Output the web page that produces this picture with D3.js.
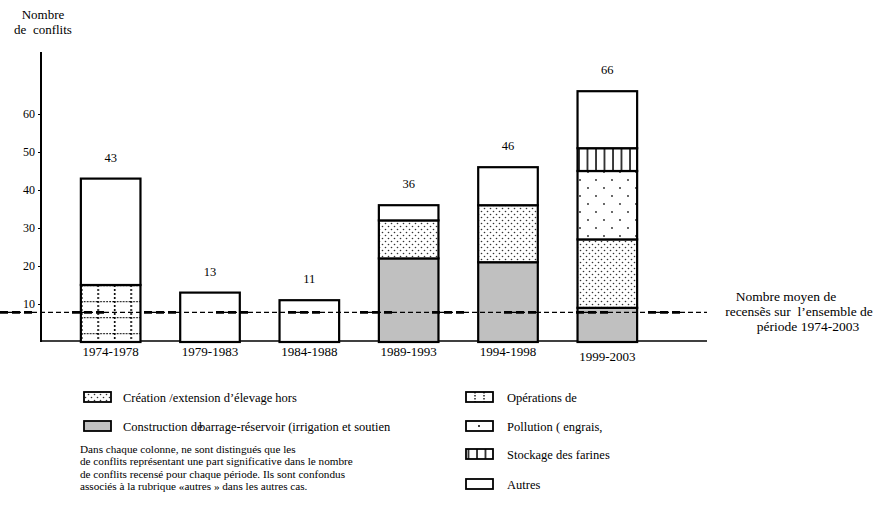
<!DOCTYPE html>
<html>
<head>
<meta charset="utf-8">
<script src="https://cdn.jsdelivr.net/npm/d3@7"></script>
<style>
  body { margin: 0; background: #fff; }
</style>
</head>
<body>
<svg id="chart" width="875" height="506" font-family="'Liberation Serif', 'Times New Roman', serif"></svg>
<script>
const periods = ['1974-1978', '1979-1983', '1984-1988', '1989-1993', '1994-1998', '1999-2003'];
const totals = [43, 13, 11, 36, 46, 66];
const barrage = [0, 0, 0, 22, 21, 9];
const operations = [15, 0, 0, 0, 0, 0];
const creation = [0, 0, 0, 10, 15, 18];
const pollution = [0, 0, 0, 0, 0, 18];
const stockage = [0, 0, 0, 0, 0, 6];
const autres = [28, 13, 11, 4, 10, 15];
const yTicks = [10, 20, 30, 40, 50, 60];
const meanValue = 7.8;

const keys = ['barrage', 'operations', 'creation', 'pollution', 'stockage', 'autres'];
const fills = {
    barrage: '#c0c0c0',
    operations: 'url(#grid)',
    creation: 'url(#dense)',
    pollution: 'url(#sparse)',
    stockage: 'url(#bars)',
    autres: '#fff'
};

const rows = periods.map((p, i) => ({
    period: p,
    barrage: barrage[i],
    operations: operations[i],
    creation: creation[i],
    pollution: pollution[i],
    stockage: stockage[i],
    autres: autres[i]
}));

const FONT = "'Liberation Serif', 'Times New Roman', serif";
const svg = d3.select('#chart');
const defs = svg.append('defs');

// échelles
const x = d3.scaleBand().domain(periods).range([61, 657]).paddingInner(0.4).paddingOuter(0.2);
const y = d3.scaleLinear().domain([0, 70]).range([342, 76]);

// motifs de remplissage
const dense = defs.append('pattern').attr('id', 'dense').attr('patternUnits', 'userSpaceOnUse')
    .attr('width', 6).attr('height', 6);
dense.append('rect').attr('width', 6).attr('height', 6).attr('fill', '#fff');
dense.append('circle').attr('cx', 1.5).attr('cy', 1.5).attr('r', 0.8).attr('fill', '#333');
dense.append('circle').attr('cx', 4.5).attr('cy', 4.5).attr('r', 0.8).attr('fill', '#333');

const sparse = defs.append('pattern').attr('id', 'sparse').attr('patternUnits', 'userSpaceOnUse')
    .attr('width', 16).attr('height', 16);
sparse.append('rect').attr('width', 16).attr('height', 16).attr('fill', '#fff');
sparse.append('circle').attr('cx', 4).attr('cy', 4).attr('r', 0.9).attr('fill', '#222');
sparse.append('circle').attr('cx', 12).attr('cy', 12).attr('r', 0.9).attr('fill', '#222');

const grid = defs.append('pattern').attr('id', 'grid').attr('patternUnits', 'userSpaceOnUse')
    .attr('width', 16.5).attr('height', 16).attr('x', x(periods[0])).attr('y', y(15));
grid.append('rect').attr('width', 16.5).attr('height', 16).attr('fill', '#fff');
grid.append('line').attr('x1', 0.8).attr('x2', 0.8).attr('y1', 0).attr('y2', 16)
    .attr('stroke', '#000').attr('stroke-width', 1.6).attr('stroke-dasharray', '2,2');
grid.append('line').attr('x1', 0).attr('x2', 16.5).attr('y1', 0.6).attr('y2', 0.6)
    .attr('stroke', '#000').attr('stroke-width', 1.2).attr('stroke-dasharray', '1.5,1.5');

const bars = defs.append('pattern').attr('id', 'bars').attr('patternUnits', 'userSpaceOnUse')
    .attr('width', 8.5).attr('height', 10);
bars.append('rect').attr('width', 8.5).attr('height', 10).attr('fill', '#fff');
bars.append('line').attr('x1', 1).attr('x2', 1).attr('y1', 0).attr('y2', 10)
    .attr('stroke', '#000').attr('stroke-width', 1.5);

// axes
svg.append('line').attr('x1', 41).attr('x2', 41).attr('y1', 52).attr('y2', 342)
    .attr('stroke', '#000').attr('stroke-width', 2);
svg.append('line').attr('x1', 40).attr('x2', 707).attr('y1', 341).attr('y2', 341)
    .attr('stroke', '#000').attr('stroke-width', 1.5);

const yAxis = svg.append('g').attr('transform', 'translate(41,0)')
    .call(d3.axisLeft(y).tickValues(yTicks).tickSize(3).tickPadding(3))
    .attr('font-family', FONT).attr('font-size', 12);
yAxis.select('.domain').remove();
yAxis.selectAll('text').attr('fill', '#000');
yAxis.selectAll('line').attr('stroke', '#000');

// barres empilées
const stacked = d3.stack().keys(keys)(rows);
svg.append('g').selectAll('g')
    .data(stacked)
    .join('g')
    .attr('fill', d => fills[d.key])
    .selectAll('rect')
    .data(d => d.filter(s => s[1] > s[0]))
    .join('rect')
    .attr('x', d => x(d.data.period))
    .attr('y', d => y(d[1]))
    .attr('width', x.bandwidth())
    .attr('height', d => y(d[0]) - y(d[1]))
    .attr('stroke', '#000')
    .attr('stroke-width', 2.2);

// ligne de moyenne
svg.append('line').attr('x1', 0).attr('x2', 707).attr('y1', y(meanValue)).attr('y2', y(meanValue))
    .attr('stroke', '#000').attr('stroke-width', 1.3).attr('stroke-dasharray', '5,3');
svg.append('line').attr('x1', 0).attr('x2', 707).attr('y1', y(meanValue)).attr('y2', y(meanValue))
    .attr('stroke', '#000').attr('stroke-width', 2.6).attr('stroke-dasharray', '8,4,8,4,8,40');

// totaux au-dessus des barres
svg.append('g').selectAll('text')
    .data(periods)
    .join('text')
    .attr('x', d => x(d) + x.bandwidth() / 2)
    .attr('y', (d, i) => y(totals[i]) - 17)
    .attr('text-anchor', 'middle')
    .attr('font-size', 12.5)
    .text((d, i) => totals[i]);

// étiquettes des périodes
svg.append('g').selectAll('text')
    .data(periods)
    .join('text')
    .attr('x', d => x(d) + x.bandwidth() / 2)
    .attr('y', (d, i) => i === 5 ? 361 : 356)
    .attr('text-anchor', 'middle')
    .attr('font-size', 13)
    .text(d => d);

// titre de l'axe
svg.append('text').attr('x', 43).attr('y', 19).attr('text-anchor', 'middle').attr('font-size', 13).text('Nombre');
svg.append('text').attr('x', 43).attr('y', 34).attr('text-anchor', 'middle').attr('font-size', 13)
    .attr('xml:space', 'preserve').text('de  conflits');

// annotation de la moyenne
const note = svg.append('g').attr('font-size', 13.5).attr('text-anchor', 'middle');
note.append('text').attr('x', 786).attr('y', 301).text('Nombre moyen de');
note.append('text').attr('x', 799).attr('y', 316).attr('xml:space', 'preserve').text('recensẽs sur  l\u2019ensemble de');
note.append('text').attr('x', 808).attr('y', 331).text('période 1974-2003');

// légende
const legendLeft = [
    { fill: 'url(#dense)', label: 'Création /extension d\u2019élevage hors', y: 398 },
    { fill: '#c0c0c0', label: 'Construction de', y: 427 }
];
const legendRight = [
    { fill: '#fff', label: 'Opérations de', y: 398, icon: 'ops' },
    { fill: '#fff', label: 'Pollution ( engrais,', y: 427, icon: 'dot' },
    { fill: 'url(#bars)', label: 'Stockage des farines', y: 455, icon: 'bars' },
    { fill: '#fff', label: 'Autres', y: 485 }
];

function drawLegend(items, x0, tx) {
    const g = svg.append('g');
    const it = g.selectAll('g').data(items).join('g');
    it.append('rect')
        .attr('x', x0).attr('y', d => d.y - 6)
        .attr('width', 27).attr('height', 10)
        .attr('fill', d => d.fill)
        .attr('stroke', '#000').attr('stroke-width', 1.8);
    it.append('text')
        .attr('x', tx).attr('y', d => d.y + 4)
        .attr('font-size', 12.5)
        .text(d => d.label);
    return it;
}

drawLegend(legendLeft, 84, 123);
svg.append('text').attr('x', 199).attr('y', 431).attr('font-size', 12.5)
    .text('barrage-réservoir (irrigation et soutien');

const right = drawLegend(legendRight, 466, 507);
right.filter(d => d.icon === 'ops').each(function(d) {
    const g = d3.select(this);
    [475, 484].forEach(xx => g.append('line')
        .attr('x1', xx).attr('x2', xx).attr('y1', d.y - 6).attr('y2', d.y + 4)
        .attr('stroke', '#000').attr('stroke-width', 1.3).attr('stroke-dasharray', '1.5,1.5'));
});
right.filter(d => d.icon === 'dot').append('circle')
    .attr('cx', 479).attr('cy', d => d.y - 1).attr('r', 1).attr('fill', '#000');

// note explicative
const para = [
    'Dans chaque colonne, ne sont distingués que les',
    'de conflits représentant une part significative dans le nombre',
    'de conflits recensé pour chaque période. Ils sont confondus',
    'associés à la rubrique «autres » dans les autres cas.'
];
svg.append('g').selectAll('text')
    .data(para)
    .join('text')
    .attr('x', 80)
    .attr('y', (d, i) => 453 + i * 12.4)
    .attr('font-size', 11.2)
    .text(d => d);
</script>
</body>
</html>
